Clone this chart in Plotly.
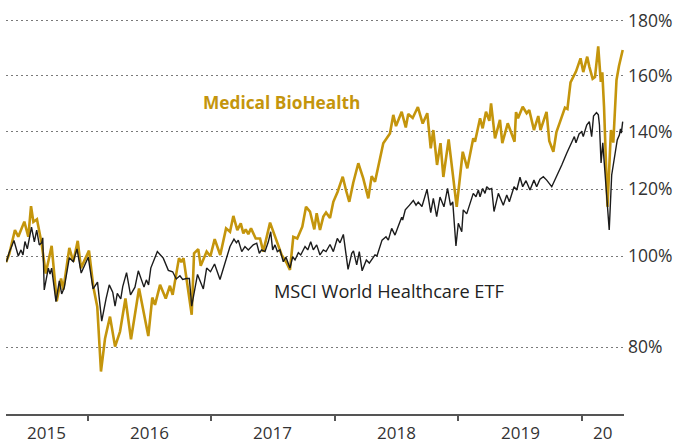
import numpy as np
import plotly.graph_objects as go

# ---------------- data (decimal year, indexed performance in %) ----------------
msci_t = [2015.345, 2015.365, 2015.405, 2015.440, 2015.462, 2015.478, 2015.494, 2015.513, 2015.547, 2015.570,
          2015.589, 2015.610, 2015.629, 2015.638, 2015.650, 2015.683, 2015.697, 2015.710, 2015.745, 2015.772,
          2015.791, 2015.812, 2015.853, 2015.872, 2015.885, 2015.915, 2015.949, 2016.006, 2016.045, 2016.081,
          2016.115, 2016.150, 2016.176, 2016.204, 2016.223, 2016.241, 2016.269, 2016.285, 2016.316, 2016.348,
          2016.384, 2016.411, 2016.441, 2016.457, 2016.476, 2016.494, 2016.512, 2016.565, 2016.613, 2016.654,
          2016.689, 2016.718, 2016.748, 2016.770, 2016.801, 2016.824, 2016.843, 2016.890, 2016.937, 2016.964,
          2016.995, 2017.028, 2017.072, 2017.112, 2017.153, 2017.185, 2017.205, 2017.220, 2017.248, 2017.274,
          2017.301, 2017.341, 2017.369, 2017.390, 2017.409, 2017.436, 2017.463, 2017.482, 2017.498, 2017.517,
          2017.536, 2017.557, 2017.584, 2017.606, 2017.638, 2017.660, 2017.679, 2017.706, 2017.725, 2017.760,
          2017.782, 2017.806, 2017.827, 2017.854, 2017.881, 2017.908, 2017.930, 2017.962, 2017.989, 2018.021,
          2018.043, 2018.070, 2018.108, 2018.138, 2018.152, 2018.178, 2018.199, 2018.222, 2018.256, 2018.280,
          2018.302, 2018.326, 2018.342, 2018.383, 2018.415, 2018.434, 2018.461, 2018.488, 2018.515, 2018.542,
          2018.550, 2018.571, 2018.605, 2018.636, 2018.658, 2018.676, 2018.706, 2018.747, 2018.777, 2018.798,
          2018.825, 2018.852, 2018.884, 2018.913, 2018.937, 2018.955, 2018.981, 2019.000, 2019.028, 2019.040,
          2019.068, 2019.121, 2019.143, 2019.162, 2019.176, 2019.197, 2019.216, 2019.230, 2019.251, 2019.270,
          2019.289, 2019.324, 2019.364, 2019.392, 2019.413, 2019.451, 2019.473, 2019.499, 2019.521, 2019.548,
          2019.580, 2019.612, 2019.634, 2019.661, 2019.688, 2019.715, 2019.756, 2019.790, 2019.837, 2019.877,
          2019.890, 2019.917, 2019.939, 2019.952, 2019.977, 2019.998, 2020.011, 2020.039, 2020.060, 2020.079,
          2020.094, 2020.118, 2020.133, 2020.142, 2020.155, 2020.169, 2020.191, 2020.221, 2020.241, 2020.268,
          2020.286, 2020.303, 2020.312, 2020.319, 2020.330]
msci_v = [98.8, 101.0, 104.7, 100.1, 101.9, 100.4, 104.4, 102.2, 108.7, 104.3,
          107.8, 103.4, 104.0, 105.5, 92.6, 97.4, 96.1, 97.4, 90.0, 94.6,
          91.7, 93.1, 99.7, 99.2, 98.8, 102.2, 96.3, 99.8, 92.8, 94.3,
          85.7, 90.6, 93.7, 92.1, 89.0, 91.8, 90.6, 93.3, 96.4, 91.5,
          93.2, 96.8, 94.3, 93.2, 94.8, 93.7, 97.4, 101.4, 99.6, 96.9,
          96.6, 95.0, 95.7, 94.9, 95.1, 95.1, 89.0, 96.0, 92.8, 97.4,
          96.6, 98.3, 94.9, 98.5, 102.9, 105.1, 104.0, 104.8, 101.4, 102.9,
          101.9, 103.4, 103.9, 100.9, 101.9, 101.4, 104.3, 107.3, 101.9, 103.4,
          101.4, 101.9, 98.8, 99.8, 97.4, 99.9, 99.2, 101.1, 100.4, 102.9,
          101.9, 104.3, 101.9, 103.4, 100.4, 101.9, 101.4, 103.5, 101.4, 105.3,
          104.0, 106.5, 97.1, 100.9, 101.6, 98.1, 101.4, 96.8, 99.2, 98.5,
          99.4, 100.4, 100.1, 104.8, 105.8, 104.8, 108.3, 106.3, 109.0, 111.6,
          110.8, 113.8, 115.2, 116.6, 115.2, 116.1, 114.8, 119.9, 113.0, 117.2,
          111.8, 117.6, 114.7, 120.2, 115.1, 116.2, 103.1, 109.8, 107.3, 113.8,
          112.6, 118.7, 117.7, 119.7, 117.7, 120.2, 118.7, 120.8, 119.9, 120.2,
          113.3, 118.7, 115.2, 118.2, 116.2, 120.8, 119.7, 124.1, 120.8, 122.9,
          119.7, 123.1, 120.8, 123.4, 124.3, 123.1, 120.8, 123.8, 128.4, 132.5,
          133.6, 136.4, 138.3, 136.1, 139.2, 140.0, 138.3, 142.4, 143.6, 138.3,
          145.6, 146.8, 146.0, 142.4, 129.1, 136.1, 123.8, 107.8, 124.9, 132.5,
          137.1, 138.8, 141.0, 139.5, 143.6]

bio_t = [2015.341, 2015.367, 2015.413, 2015.440, 2015.489, 2015.521, 2015.543, 2015.562, 2015.591, 2015.628,
         2015.662, 2015.710, 2015.751, 2015.786, 2015.804, 2015.853, 2015.885, 2015.921, 2015.947, 2016.012,
         2016.047, 2016.079, 2016.109, 2016.142, 2016.182, 2016.201, 2016.223, 2016.263, 2016.307, 2016.352,
         2016.417, 2016.492, 2016.524, 2016.546, 2016.587, 2016.633, 2016.667, 2016.689, 2016.740, 2016.759,
         2016.777, 2016.843, 2016.862, 2016.896, 2016.916, 2016.964, 2016.994, 2017.029, 2017.074, 2017.121,
         2017.153, 2017.180, 2017.212, 2017.240, 2017.261, 2017.280, 2017.301, 2017.323, 2017.361, 2017.396,
         2017.422, 2017.477, 2017.517, 2017.571, 2017.612, 2017.638, 2017.665, 2017.697, 2017.738, 2017.768,
         2017.800, 2017.835, 2017.854, 2017.881, 2017.908, 2017.930, 2017.962, 2017.989, 2018.023, 2018.065,
         2018.091, 2018.118, 2018.150, 2018.191, 2018.231, 2018.272, 2018.299, 2018.326, 2018.393, 2018.447,
         2018.474, 2018.496, 2018.542, 2018.575, 2018.595, 2018.631, 2018.673, 2018.712, 2018.749, 2018.777,
         2018.798, 2018.828, 2018.856, 2018.879, 2018.922, 2018.987, 2019.036, 2019.073, 2019.121, 2019.135,
         2019.176, 2019.197, 2019.224, 2019.251, 2019.265, 2019.297, 2019.337, 2019.356, 2019.400, 2019.455,
         2019.467, 2019.483, 2019.521, 2019.553, 2019.574, 2019.612, 2019.647, 2019.665, 2019.714, 2019.736,
         2019.769, 2019.794, 2019.823, 2019.863, 2019.883, 2019.908, 2019.952, 2019.989, 2020.011, 2020.043,
         2020.060, 2020.087, 2020.106, 2020.132, 2020.153, 2020.165, 2020.179, 2020.207, 2020.235, 2020.254,
         2020.280, 2020.300, 2020.330]
bio_v = [98.7, 100.7, 107.8, 105.8, 110.3, 105.8, 114.9, 110.2, 111.0, 104.0,
         96.2, 103.1, 90.1, 95.1, 92.6, 102.5, 98.8, 104.6, 97.4, 101.7,
         93.3, 88.9, 74.6, 81.9, 86.7, 83.4, 80.1, 83.4, 90.7, 81.7,
         92.9, 82.4, 90.9, 89.3, 93.7, 90.7, 93.5, 91.5, 99.6, 98.7,
         99.6, 87.1, 100.9, 102.1, 97.9, 101.4, 100.0, 105.1, 100.4, 108.3,
         107.3, 112.0, 107.8, 109.8, 106.8, 108.0, 106.6, 108.3, 105.3, 105.3,
         101.4, 110.0, 105.8, 100.4, 98.5, 97.0, 105.8, 105.3, 108.8, 114.7,
         113.3, 108.0, 112.8, 107.8, 111.8, 113.0, 111.4, 116.2, 119.1, 124.3,
         119.7, 116.2, 122.2, 129.0, 123.7, 117.2, 124.5, 122.5, 136.0, 139.4,
         146.0, 142.0, 147.1, 141.5, 146.3, 144.9, 148.8, 142.9, 146.6, 134.2,
         140.6, 128.4, 136.0, 124.2, 137.3, 114.7, 133.0, 127.2, 137.7, 136.5,
         144.8, 141.2, 147.1, 143.9, 150.1, 137.7, 144.2, 136.0, 143.0, 136.5,
         147.0, 144.8, 148.9, 146.6, 147.7, 140.6, 145.6, 140.6, 147.1, 136.8,
         133.0, 139.9, 143.5, 148.6, 148.1, 157.6, 161.5, 166.3, 161.3, 166.9,
         163.3, 158.9, 159.5, 170.6, 157.8, 161.2, 148.9, 114.7, 140.6, 136.2,
         158.5, 163.5, 169.3]

grid_values = [80, 100, 120, 140, 160, 180]
grid_labels = ["80%", "100%", "120%", "140%", "160%", "180%"]
year_ticks = [2016, 2017, 2018, 2019, 2020]
year_labels = ["2015", "2016", "2017", "2018", "2019", "20"]
name_bio = "Medical BioHealth"
name_msci = "MSCI World Healthcare ETF"

# ---------------- styling / scale ----------------
GOLD = "#C4950C"
BLACK = "#1c1c1c"
TEXT = "#333333"
FONT = "Open Sans"
W, H = 674, 444
M_L, M_R, M_T, M_B = 6, 50, 0, 30
PLOT_H = H - M_T - M_B
X_RANGE = [2015.3406, 2020.3406]
# the source chart uses an uneven vertical scale: screen positions of its gridlines
GRID_SCREEN = [347.0, 256.3, 189.0, 131.7, 75.7, 20.5]


def to_axis(v):
    v = np.asarray(v, dtype=float)
    xs = np.array(grid_values, dtype=float)
    ys = -np.array(GRID_SCREEN)
    out = np.interp(v, xs, ys)
    lo = v < xs[0]
    out[lo] = ys[0] + (v[lo] - xs[0]) * (ys[1] - ys[0]) / (xs[1] - xs[0])
    hi = v > xs[-1]
    out[hi] = ys[-1] + (v[hi] - xs[-1]) * (ys[-1] - ys[-2]) / (xs[-1] - xs[-2])
    return out


fig = go.Figure()
fig.add_trace(go.Scatter(x=bio_t, y=to_axis(bio_v), mode="lines", name=name_bio,
                         line=dict(color=GOLD, width=2.6), hoverinfo="skip"))
fig.add_trace(go.Scatter(x=msci_t, y=to_axis(msci_v), mode="lines", name=name_msci,
                         line=dict(color=BLACK, width=1.4), hoverinfo="skip"))

# year labels centred in each visible year span
bounds = [X_RANGE[0]] + year_ticks + [X_RANGE[1]]
for i, lab in enumerate(year_labels):
    mid = (bounds[i] + bounds[i + 1]) / 2
    fig.add_annotation(x=mid, xref="x", y=-0.0455, yref="paper", text=lab, showarrow=False,
                       xanchor="center", yanchor="middle",
                       font=dict(family=FONT, size=17, color=TEXT))

fig.add_annotation(x=0.4458, xref="paper", y=0.752, yref="paper", text="<b>" + name_bio + "</b>",
                   showarrow=False, xanchor="center", yanchor="middle",
                   font=dict(family=FONT, size=17.3, color=GOLD))
fig.add_annotation(x=0.619, xref="paper", y=0.296, yref="paper", text=name_msci,
                   showarrow=False, xanchor="center", yanchor="middle",
                   font=dict(family=FONT, size=18.2, color="#222222"))

fig.update_layout(
    width=W, height=H,
    margin=dict(l=M_L, r=M_R, t=M_T, b=M_B, pad=0),
    paper_bgcolor="white", plot_bgcolor="white",
    showlegend=False,
    font=dict(family=FONT, color=TEXT),
    xaxis=dict(range=X_RANGE, showgrid=False, zeroline=False,
               showline=True, linecolor="#555555", linewidth=2,
               ticks="outside", ticklen=5, tickwidth=1.5, tickcolor="#555555",
               tickmode="array", tickvals=year_ticks, showticklabels=False,
               fixedrange=True),
    yaxis=dict(range=[-PLOT_H, 0], side="right", showline=False, zeroline=False,
               tickmode="array", tickvals=list(to_axis(grid_values)), ticktext=grid_labels,
               showgrid=True, gridcolor="#7a7a7a", gridwidth=1.2, griddash="1.5px,3.5px",
               ticks="", ticklabelstandoff=3,
               tickfont=dict(family=FONT, size=17.5, color=TEXT),
               fixedrange=True),
)

fig.write_html("out.html", config={"displayModeBar": False},
               post_script="document.body.style.margin='0';document.body.style.overflow='hidden';")
